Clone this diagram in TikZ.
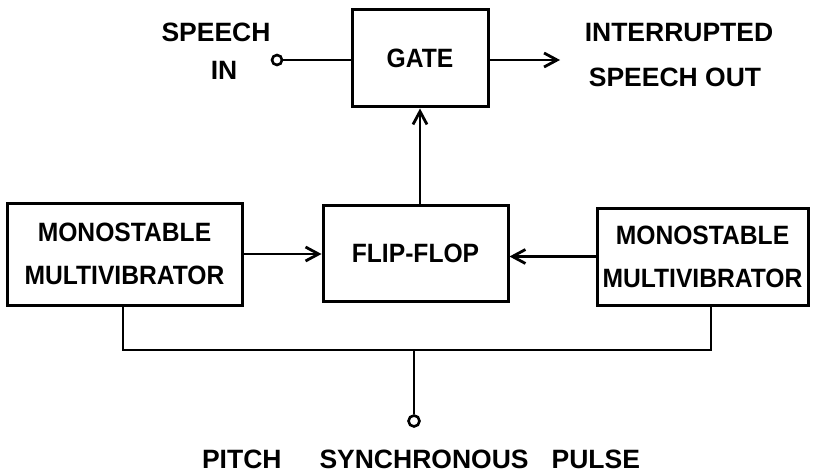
\documentclass[tikz,border=0pt]{standalone}
\usepackage{fontspec}
\setmainfont{Liberation Sans}
\newfontfamily\boxfont[FakeStretch=0.93]{Liberation Sans}
\usetikzlibrary{arrows.meta}
\begin{document}
\begin{tikzpicture}[x=1pt,y=-1pt,
  line width=2.8pt,
  lbl/.style={font=\fontsize{26.5}{43}\selectfont\bfseries, align=center, inner sep=0pt},
  blk/.style={draw, lbl, font=\boxfont\fontsize{26.5}{43}\selectfont\bfseries, line width=3pt},
  term/.style={draw, circle, minimum size=10pt, inner sep=0pt, line width=2.6pt, fill=white},
  tip/.style={-{Straight Barb[length=13pt,width=14pt,line width=2.8pt]}}]
  \useasboundingbox (0,0) rectangle (813,476);

  % blocks
  \node[blk, minimum width=136pt, minimum height=97pt] (gate) at (420,58.5) {GATE};
  \node[blk, minimum width=185pt, minimum height=96pt] (flip) at (415.5,253) {FLIP-FLOP};
  \node[blk, minimum width=235pt, minimum height=102pt] (mvl) at (124.5,254) {MONOSTABLE\\MULTIVIBRATOR};
  \node[blk, minimum width=211pt, minimum height=97pt] (mvr) at (702.5,256.5) {MONOSTABLE\\MULTIVIBRATOR};

  % terminals
  \node[term] (sin) at (277,60) {};
  \node[term, minimum size=11pt] (pulse) at (414,421) {};
  \coordinate (out) at (560,60);

  % labels
  \node[lbl] at (216,32) {SPEECH};
  \node[lbl] at (224,70) {IN};
  \node[lbl] at (679,33) {INTERRUPTED};
  \node[lbl] at (675,77) {SPEECH OUT};
  \node[lbl] at (421,459) {PITCH\hspace{38pt}SYNCHRONOUS\hspace{23pt}PULSE};

  % signal paths
  \draw (sin) -- (sin -| gate.west);
  \draw[tip] (gate.east |- out) -- (out);
  \draw[tip] (flip.north -| gate.south) -- (gate.south);
  \draw[tip] (mvl.east) -- (mvl.east -| flip.west);
  \draw[tip] (mvr.west) -- (mvr.west -| flip.east);

  % pulse bus
  \coordinate (busL) at (123,350);
  \coordinate (busR) at (711,350);
  \coordinate (busM) at (414,350);
  \draw (mvl.south -| busL) -- (busL) -- (busR) -- (mvr.south -| busR);
  \draw (busM) -- (pulse.north);
\end{tikzpicture}
\end{document}
